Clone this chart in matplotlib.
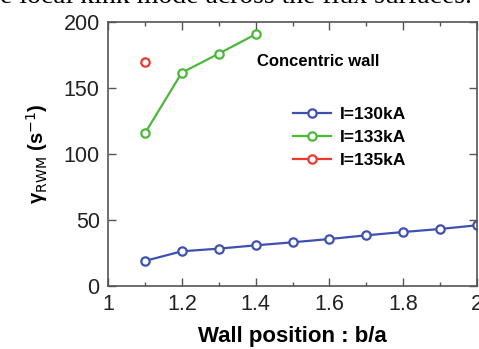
import numpy as np
import matplotlib.pyplot as plt

# Data
b_over_a = [1.1, 1.2, 1.3, 1.4, 1.5, 1.6, 1.7, 1.8, 1.9, 2.0]
gamma_130 = [19, 26.3, 28.3, 30.8, 33.1, 35.6, 38.4, 40.9, 43.2, 46]
b_133 = [1.1, 1.2, 1.3, 1.4]
gamma_133 = [115.7, 161.6, 176, 190.7]
b_135 = [1.1]
gamma_135 = [170]

x_ticks = [1, 1.2, 1.4, 1.6, 1.8, 2]
x_ticklabels = ["1", "1.2", "1.4", "1.6", "1.8", "2"]
x_minor = [1.1, 1.3, 1.5, 1.7, 1.9]
y_ticks = [0, 50, 100, 150, 200]

plt.rcParams['font.family'] = ['Liberation Sans', 'DejaVu Sans']

fig = plt.figure(figsize=(4.79, 3.49), dpi=100)
ax = fig.add_axes([0.2255, 0.1805, 0.7705, 0.7565])

mk = dict(marker="o", markersize=6, markerfacecolor="white", markeredgewidth=1.6, linewidth=1.6)
ax.plot(b_over_a, gamma_130, color="#3f51b0", label="I=130kA", **mk)
ax.plot(b_133, gamma_133, color="#4cb83a", label="I=133kA", **mk)
ax.plot(b_135, gamma_135, color="#ec3a2c", label="I=135kA", **mk)

ax.set_xlim(1, 2)
ax.set_ylim(0, 200)
ax.set_xticks(x_ticks)
ax.set_xticklabels(x_ticklabels)
ax.set_xticks(x_minor, minor=True)
ax.set_yticks(y_ticks)
ax.tick_params(which="both", direction="in", top=True, right=True, labelsize=15.5,
               color="#555555", labelcolor="#222222")
ax.tick_params(which="major", length=6, width=1, pad=6)
ax.tick_params(which="minor", length=3, width=1)
for s in ax.spines.values():
    s.set_color("#555555")
    s.set_linewidth(1.2)

ax.set_xlabel("Wall position : b/a", fontsize=16, fontweight="bold", labelpad=8)
ax.set_ylabel("γ$_{\\mathsf{RWM}}$ (s$^{\\mathsf{-1}}$)", fontsize=14.5, fontweight="bold", labelpad=10)

ax.text(0.405, 0.835, "Concentric wall", transform=ax.transAxes, fontsize=12, fontweight="bold")
leg = ax.legend(loc="upper left", bbox_to_anchor=(0.459, 0.736), frameon=False,
                prop={"size": 12.5, "weight": "bold"}, handlelength=2.2, labelspacing=0.45,
                handletextpad=0.5)

fig.text(0.0, 0.99, "e local kink mode across the flux surfaces.", fontsize=20,
         family=["Liberation Serif", "DejaVu Serif"], va="baseline")

fig.savefig("out.png", dpi=100)
